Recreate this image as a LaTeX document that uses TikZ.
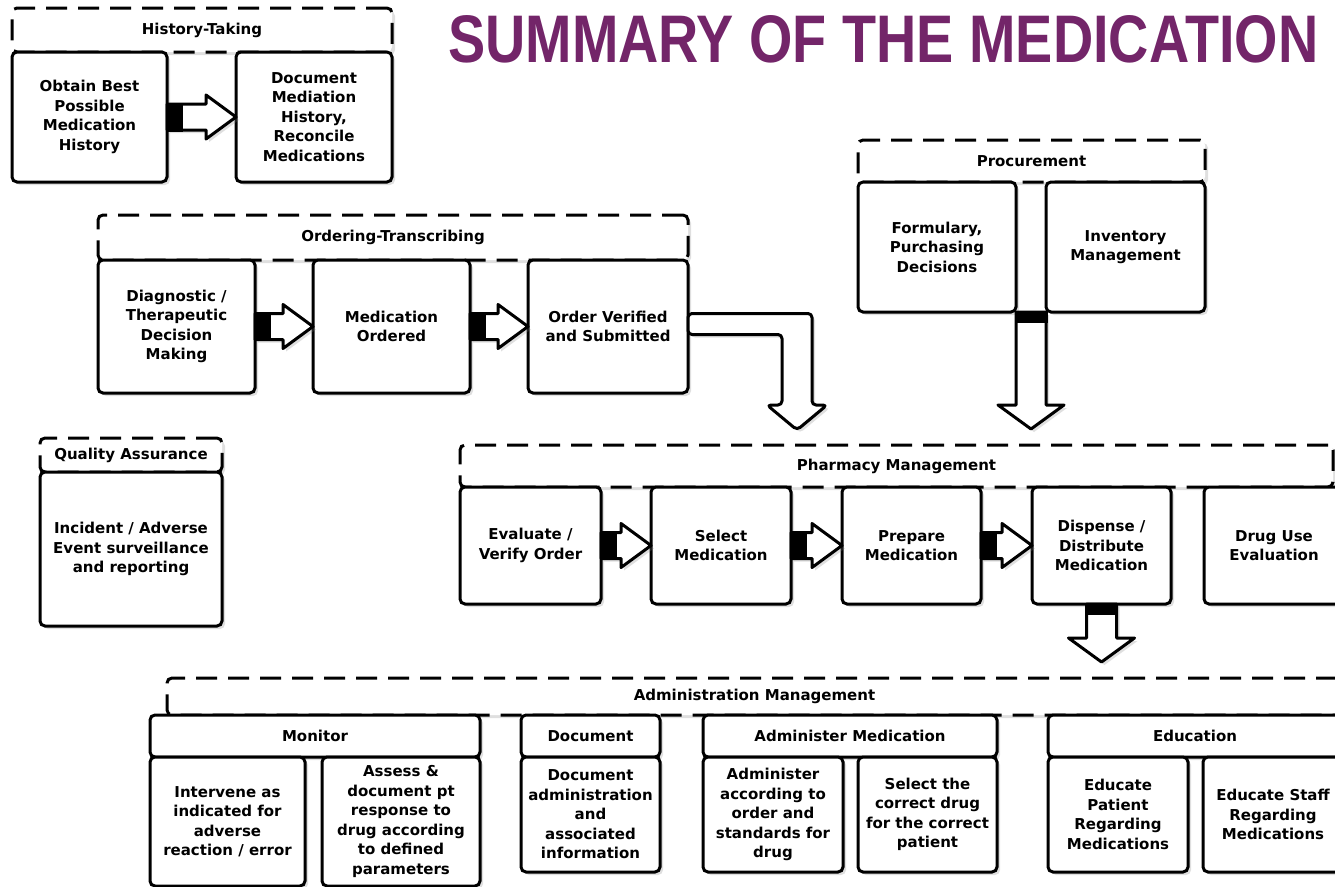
\documentclass[tikz,border=0pt]{standalone}
\usepackage{fontspec}
\setmainfont{DejaVu Sans}
\newfontfamily\titlefont{Liberation Sans}
\usepackage{graphicx}
\usetikzlibrary{positioning, calc, shadows}
\definecolor{titlepurple}{RGB}{115,37,105}

\begin{document}
\begin{tikzpicture}[
  x=1pt, y=-1pt,
  font=\bfseries\fontsize{15}{19.5}\selectfont,
  shade/.style={drop shadow={opacity=0.25, shadow xshift=3pt, shadow yshift=-3pt}},
  box/.style={draw, line width=3pt, rounded corners=5pt, fill=white, outer sep=0pt,
              align=center, inner sep=2pt, anchor=north west, shade},
  head/.style={box, dash pattern=on 21pt off 11pt,
               font=\bfseries\fontsize{15}{18}\selectfont},
  hollow/.style={draw, line width=3pt, fill=white, line join=round, shade},
  fatright/.style={hollow, to path={let \p1=(\tikztostart), \p2=(\tikztotarget) in
    (\x1,\y1+13pt) -- (\x2-30pt,\y1+13pt) -- (\x2-30pt,\y1+22pt) -- (\x2,\y1)
    -- (\x2-30pt,\y1-22pt) -- (\x2-30pt,\y1-13pt) -- (\x1,\y1-13pt) -- cycle}},
  stubright/.style={fill=black, to path={let \p1=(\tikztostart) in
    (\x1-1.5pt,\y1-14.5pt) rectangle (\x1+16pt,\y1+14.5pt)}},
  fatdown/.style={hollow, to path={let \p1=(\tikztostart), \p2=(\tikztotarget) in
    (\x1-15pt,\y1) -- (\x1-15pt,\y2+40pt) -- (\x1-33pt,\y2+40pt) -- (\x1,\y2+16pt)
    -- (\x1+33pt,\y2+40pt) -- (\x1+15pt,\y2+40pt) -- (\x1+15pt,\y1) -- cycle}},
  stubdown/.style={fill=black, to path={let \p1=(\tikztostart) in
    (\x1-16.5pt,\y1+1.5pt) rectangle (\x1+16.5pt,\y1-11pt)}},
  fatbent/.style={hollow, rounded corners=4pt, to path={let \p1=(\tikztostart), \p2=(\tikztotarget) in
    (\x1,\y1+13pt) -- (\x2+15pt,\y1+13pt) -- (\x2+15pt,\y2+40pt) -- (\x2+30pt,\y2+40pt)
    -- (\x2,\y2+15pt) -- (\x2-30pt,\y2+40pt) -- (\x2-15pt,\y2+40pt)
    -- (\x2-15pt,\y1-8pt) -- (\x1,\y1-8pt) -- cycle}}
]
  \path[use as bounding box, fill=white] (0,0) rectangle (1335,886);

  \node[anchor=north west, inner sep=0pt, text=titlepurple] (title) at (448,15)
    {\resizebox{870pt}{47pt}{\titlefont\bfseries SUMMARY OF THE MEDICATION}};

  % history-taking
  \node[head, minimum width=380pt, minimum height=44pt] (histhead) at (12,8) {History-Taking};
  \node[box, minimum width=155pt, minimum height=130pt] (obtain) at (12,52)
    {Obtain Best\\Possible\\Medication\\History};
  \node[box, minimum width=156pt, minimum height=130pt] (docmed) at (236,52)
    {Document\\Mediation\\History,\\Reconcile\\Medications};

  % ordering-transcribing
  \node[head, minimum width=590pt, minimum height=45pt] (orderhead) at (98,215) {Ordering-Transcribing};
  \node[box, minimum width=157pt, minimum height=133pt] (diag) at (98,260)
    {Diagnostic /\\Therapeutic\\Decision\\Making};
  \node[box, minimum width=157pt, minimum height=133pt, right=58pt of diag.east, anchor=west] (ordered)
    {Medication\\Ordered};
  \node[box, minimum width=160pt, minimum height=133pt, right=58pt of ordered.east, anchor=west] (verified)
    {Order Verified\\and Submitted};

  % procurement
  \node[head, minimum width=347pt, minimum height=42pt] (prochead) at (858,140) {Procurement};
  \node[box, minimum width=158pt, minimum height=130pt] (formulary) at (858,182)
    {Formulary,\\Purchasing\\Decisions};
  \node[box, minimum width=159pt, minimum height=130pt] (inventory) at (1046,182)
    {Inventory\\Management};

  % quality assurance
  \node[head, minimum width=182pt, minimum height=34pt] (qahead) at (40,438) {Quality Assurance};
  \node[box, minimum width=182pt, minimum height=154pt] (qabody) at (40,472)
    {Incident / Adverse\\Event surveillance\\and reporting};

  % pharmacy management
  \node[head, minimum width=873pt, minimum height=42pt] (pharmhead) at (460,445) {Pharmacy Management};
  \node[box, minimum width=141pt, minimum height=117pt] (evaluate) at (460,487)
    {Evaluate /\\Verify Order};
  \node[box, minimum width=140pt, minimum height=117pt, right=50pt of evaluate.east, anchor=west] (select)
    {Select\\Medication};
  \node[box, minimum width=139pt, minimum height=117pt, right=51pt of select.east, anchor=west] (prepare)
    {Prepare\\Medication};
  \node[box, minimum width=139pt, minimum height=117pt, right=51pt of prepare.east, anchor=west] (dispense)
    {Dispense /\\Distribute\\Medication};
  \node[box, minimum width=140pt, minimum height=117pt, right=33pt of dispense.east, anchor=west] (druguse)
    {Drug Use\\Evaluation};

  % administration management
  \node[head, minimum width=1175pt, minimum height=37pt] (adminhead) at (167,678) {Administration Management};
  \node[box, minimum width=330pt, minimum height=42pt] (monhead) at (150,715) {Monitor};
  \node[box, minimum width=155pt, minimum height=129pt] (intervene) at (150,757)
    {Intervene as\\indicated for\\adverse\\reaction / error};
  \node[box, minimum width=158pt, minimum height=129pt] (assess) at (322,757)
    {Assess \&\\document pt\\response to\\drug according\\to defined\\parameters};
  \node[box, minimum width=139pt, minimum height=42pt] (dochead) at (521,715) {Document};
  \node[box, minimum width=139pt, minimum height=115pt] (docbox) at (521,757)
    {Document\\administration\\and\\associated\\information};
  \node[box, minimum width=294pt, minimum height=42pt] (admhead) at (703,715) {Administer Medication};
  \node[box, minimum width=140pt, minimum height=115pt] (adminorder) at (703,757)
    {Administer\\according to\\order and\\standards for\\drug};
  \node[box, minimum width=139pt, minimum height=115pt] (admindrug) at (858,757)
    {Select the\\correct drug\\for the correct\\patient};
  \node[box, minimum width=294pt, minimum height=42pt] (eduhead) at (1048,715) {Education};
  \node[box, minimum width=140pt, minimum height=115pt] (edupatient) at (1048,757)
    {Educate\\Patient\\Regarding\\Medications};
  \node[box, minimum width=140pt, minimum height=115pt] (edustaff) at (1203,757)
    {Educate Staff\\Regarding\\Medications};

  % arrows
  \foreach \a/\b in {obtain/docmed, diag/ordered, ordered/verified,
                     evaluate/select, select/prepare, prepare/dispense}{
    \draw[fatright] (\a.east) to (\b.west);
    \fill[stubright] (\a.east) to (\b.west);
  }
  \coordinate (procgap) at ($(formulary.south east)!0.5!(inventory.south west)$);
  \draw[fatdown] (procgap) to (pharmhead.north);
  \fill[stubdown] (procgap) to (pharmhead.north);
  \draw[fatdown] (dispense.south) to (adminhead.north);
  \fill[stubdown] (dispense.south) to (adminhead.north);
  \coordinate (bendx) at (797,0);
  \draw[fatbent] (verified.east) to (pharmhead.north -| bendx);
\end{tikzpicture}
\end{document}
